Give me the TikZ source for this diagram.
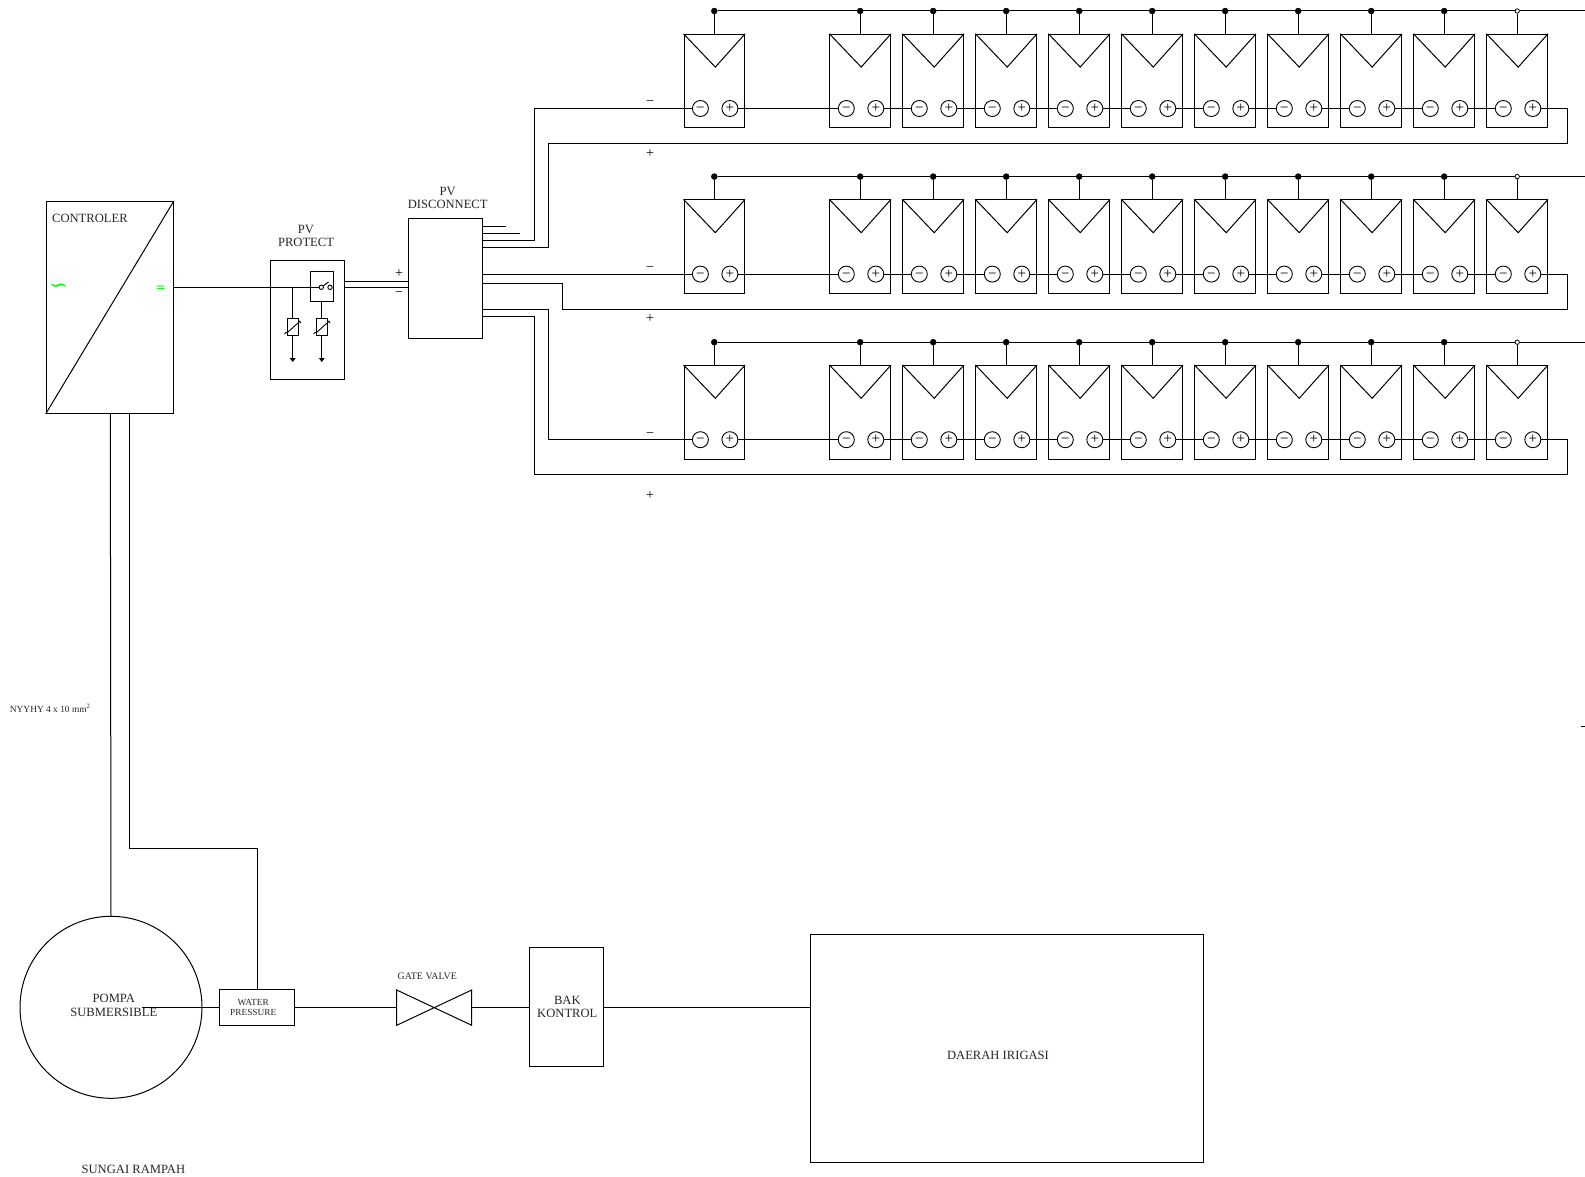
\documentclass[tikz,border=0pt]{standalone}
\usepackage{fontspec}
\setmainfont{Liberation Serif}
\newfontfamily\symfont{DejaVu Sans}
\usetikzlibrary{calc}
\definecolor{ctlgreen}{RGB}{0,255,0}
\tikzset{
  wire/.style={line width=.5pt,line join=miter},
  boxed/.style={draw,line width=.5pt,rectangle,inner sep=0pt},
  panel/.style={boxed,minimum width=30.3pt,minimum height=46.8pt},
  term/.style={draw,circle,line width=.45pt,inner sep=0pt,minimum size=8pt,font=\fontsize{7.5}{7.5}\selectfont,fill=white},
  busdot/.style={circle,fill=black,draw=black,line width=.2pt,inner sep=0pt,minimum size=3pt},
  busopen/.style={circle,fill=white,draw=black,line width=.4pt,inner sep=0pt,minimum size=2.2pt},
  lab/.style={inner sep=0pt,align=center,yshift=-.4pt,font=\fontsize{6.3}{6.75}\selectfont,text=black!85},
  labsmall/.style={inner sep=0pt,align=center,yshift=-.4pt,font=\fontsize{4.65}{5}\selectfont,text=black!85},
  sign/.style={inner sep=0pt,font=\fontsize{7}{7}\selectfont}
}
\begin{document}
\begin{tikzpicture}[x=.5pt,y=-.5pt]
\useasboundingbox (0,0) rectangle (1585,1177);

% PV rows
\foreach \r/\dy in {0/0,1/165.6,2/331.2}{
  \foreach \c in {0,...,10}{
    \pgfmathsetmacro{\cx}{\c==0 ? 714.3 : 860.2+73*(\c-1)}
    \pgfmathsetmacro{\by}{11+\dy}
    \pgfmathsetmacro{\ay}{67.1+\dy}
    \pgfmathsetmacro{\cy}{108.5+\dy}
    \node[panel] (p-\r-\c) at (\cx,{81.1+\dy}) {};
    \coordinate (apex-\r-\c) at ({\cx+1},\ay);
    \draw[wire] (p-\r-\c.north west) -- (apex-\r-\c) -- (p-\r-\c.north east);
    \ifnum\c=10
      \node[busopen] (d-\r-\c) at (\cx,\by) {};
    \else
      \node[busdot] (d-\r-\c) at (\cx,\by) {};
    \fi
    \draw[wire] (d-\r-\c) -- (p-\r-\c.north);
    \node[term] (m-\r-\c) at ({\cx-13.9},\cy) {\vphantom{+}−};
    \node[term] (q-\r-\c) at ({\cx+15.6},\cy) {+};
  }
  \coordinate (busend-\r) at (1585,{11+\dy});
  \draw[wire] (d-\r-0) -- (d-\r-1) -- (d-\r-2) -- (d-\r-3) -- (d-\r-4) -- (d-\r-5) -- (d-\r-6) -- (d-\r-7) -- (d-\r-8) -- (d-\r-9) -- (d-\r-10) -- (busend-\r);
  \foreach \a/\b in {0/1,1/2,2/3,3/4,4/5,5/6,6/7,7/8,8/9,9/10}{
    \draw[wire] (q-\r-\a) -- (m-\r-\b);
  }
  \coordinate (retc-\r) at (1567.7,{143.5+\dy});
  \draw[wire] (q-\r-10) -| (retc-\r);
}

% Boxes
\node[boxed,minimum width=63.6pt,minimum height=106pt] (ctl) at (109.8,307.4) {};
\draw[wire] (ctl.south west) -- (ctl.north east);
\node[lab,anchor=west] (ctltxt) at (51.7,218) {CONTROLER};
\node[inner sep=0pt,text=ctlgreen,font=\symfont\fontsize{11}{11}\selectfont] (ac) at (58.5,288) {∽};
\node[inner sep=0pt,text=ctlgreen,font=\symfont\fontsize{6}{6}\selectfont] (dc) at (160.7,288.5) {=};

\node[boxed,minimum width=36.8pt,minimum height=59.5pt] (prot) at (307.5,319.8) {};
\node[lab] (prottxt) at (306,235) {PV\\PROTECT};
\node[boxed,minimum width=11.85pt,minimum height=15pt] (sw) at (321.85,286) {};
\node[draw,circle,line width=.45pt,inner sep=0pt,minimum size=2.2pt] (swa) at (321.3,287.3) {};
\node[draw,circle,line width=.45pt,inner sep=0pt,minimum size=2.2pt] (swb) at (330,287.3) {};
\coordinate (swarm) at (328.5,282);
\draw[wire] (swa) -- (swarm);

\node[boxed,minimum width=5.6pt,minimum height=8.3pt] (v1) at (292.7,327) {};
\node[boxed,minimum width=5.6pt,minimum height=8.3pt] (v2) at (321.8,327) {};
\foreach \v in {v1,v2}{
  \draw[line width=.45pt] ($(\v.south west)+(-2,-1.5)$) .. controls ($(\v.south west)+(-2,-3)$) and ($(\v.south west)+(-1,-3.5)$) .. ($(\v.south west)+(1,-3.5)$) -- ($(\v.north east)+(-1,5)$) -- ($(\v.north east)+(1,3)$) -- ($(\v.north east)+(2,5)$);
}
\coordinate (t1) at (292.7,287.3);
\coordinate (g1) at (292.7,358);
\coordinate (g2) at (321.8,358);
\coordinate (gt1) at (292.7,362);
\coordinate (gt2) at (321.8,362);
\draw[wire] (t1) -- (v1.north);
\draw[wire] (v1.south) -- (g1);
\draw[wire] (sw.south -| v2.north) -- (v2.north);
\draw[wire] (v2.south) -- (g2);
\fill ($(g1)+(-3,0)$) -- ($(g1)+(3,0)$) -- (gt1) -- cycle;
\fill ($(g2)+(-3,0)$) -- ($(g2)+(3,0)$) -- (gt2) -- cycle;

\node[boxed,minimum width=36.85pt,minimum height=59.65pt] (disc) at (445.15,278.35) {};
\node[lab] (disctxt) at (447.7,197.2) {PV\\DISCONNECT};
\node[sign] (dp) at (399,274) {+};
\node[sign] (dm) at (399,294) {−};

% controller to protect / disconnect
\coordinate (ctlout) at (ctl.east |- swa);
\draw[wire] (ctlout) -- (swa);
\coordinate (pa) at (prot.east |- 0,281.3);
\coordinate (pb) at (prot.east |- 0,287.3);
\draw[wire] (pa) -- (pa -| disc.west);
\draw[wire] (pb) -- (pb -| disc.west);

% disconnect outputs
\coordinate (s1) at (482,226);   \coordinate (s1e) at (505.7,226);
\coordinate (s2) at (482,233);   \coordinate (s2e) at (519.7,233);
\draw[wire] (s1) -- (s1e);
\draw[wire] (s2) -- (s2e);
\coordinate (o1) at (482,240.3);
\coordinate (c1) at (534.3,240.3);
\draw[wire] (o1) -- (c1) |- (m-0-0);
\coordinate (o2) at (482,247.7);
\coordinate (c2) at (548.7,247.7);
\draw[wire] (o2) -- (c2) |- (retc-0);
\coordinate (o3) at (482,274.1);
\draw[wire] (o3) -- (m-1-0);
\coordinate (o4) at (482,283.3);
\coordinate (c4) at (562,283.3);
\draw[wire] (o4) -- (c4) |- (retc-1);
\coordinate (o5) at (482,309);
\coordinate (c5) at (548.7,309);
\draw[wire] (o5) -- (c5) |- (m-2-0);
\coordinate (o6) at (482,316.3);
\coordinate (c6) at (534.3,316.3);
\draw[wire] (o6) -- (c6) |- (retc-2);

% row signs
\foreach \n/\s/\yy in {a/−/103,b/+/153.5,c/−/269,d/+/319,e/−/434.6,f/+/495.5}{
  \node[sign] (sg-\n) at (650,\yy) {\s};
}

% Stray tick
\coordinate (tka) at (1581,726);
\coordinate (tkb) at (1585,726);
\draw[wire] (tka) -- (tkb);

% Lower part
\node[draw,circle,line width=.5pt,inner sep=0pt,minimum size=91pt] (pump) at (111,1007.3) {};
\node[lab] (pumptxt) at (113.8,1004.7) {POMPA\\SUBMERSIBLE};
\node[boxed,minimum width=37.7pt,minimum height=17.85pt] (wp) at (257,1007.2) {};
\node[labsmall] (wptxt) at (253.2,1006.7) {WATER\\PRESSURE};
\coordinate (vc) at (434.2,1007.5);
\coordinate (vlt) at (396.7,990);
\coordinate (vlb) at (396.7,1025.3);
\coordinate (vrt) at (471.7,990);
\coordinate (vrb) at (471.7,1025.3);
\draw[wire] (vlt) -- (vrb) -- (vrt) -- (vlb) -- cycle;
\node[labsmall,font=\fontsize{4.95}{5}\selectfont] (gvtxt) at (427.3,975.3) {GATE VALVE};
\node[boxed,minimum width=37pt,minimum height=59.7pt] (bak) at (566.6,1006.9) {};
\node[lab] (baktxt) at (567.3,1006.2) {BAK\\KONTROL};
\node[boxed,minimum width=196.4pt,minimum height=114.2pt] (dae) at (1007.2,1048.4) {};
\node[lab] (daetxt) at (998,1054.3) {DAERAH IRIGASI};
\node[lab] (srtxt) at (133.4,1168.5) {SUNGAI RAMPAH};
\node[inner sep=0pt,font=\fontsize{4.7}{5}\selectfont,text=black!85,anchor=west] (cable) at (9.5,708.5) {NYYHY 4 x 10 mm\textsuperscript{2}};

\coordinate (ps) at (141.7,1007);
\draw[wire] (ps) -- (wp.west |- ps);
\draw[wire] (wp.east |- ps) -- (vlt |- ps);
\draw[wire] (vrt |- ps) -- (bak.west |- ps);
\draw[wire] (bak.east |- ps) -- (dae.west |- ps);
\coordinate (cb1) at (110.3,413.4);
\coordinate (cb1e) at (111,916);
\draw[wire] (cb1) -- (cb1e);
\coordinate (cb2) at (129.4,413.4);
\coordinate (cb2m) at (129.4,848);
\draw[wire] (cb2) -- (cb2m) -| (wp.north -| 257,0);
\end{tikzpicture}
\end{document}
